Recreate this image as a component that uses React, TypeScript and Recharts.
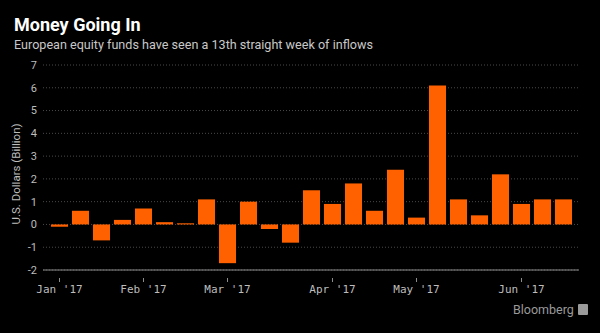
import React from "react";
import { BarChart, Bar, XAxis, YAxis, CartesianGrid } from "recharts";

// weekly fund flows, 2017
const weeks = [
  "2017-01-04", "2017-01-11", "2017-01-18", "2017-01-25",
  "2017-02-01", "2017-02-08", "2017-02-15", "2017-02-22",
  "2017-03-01", "2017-03-08", "2017-03-15", "2017-03-22", "2017-03-29",
  "2017-04-05", "2017-04-12", "2017-04-19", "2017-04-26",
  "2017-05-03", "2017-05-10", "2017-05-17", "2017-05-24", "2017-05-31",
  "2017-06-07", "2017-06-14", "2017-06-21",
];
const inflows = [
  -0.1, 0.6, -0.7, 0.2,
  0.7, 0.1, 0.05, 1.1,
  -1.7, 1.0, -0.2, -0.8, 1.5,
  0.9, 1.8, 0.6, 2.4,
  0.3, 6.1, 1.1, 0.4, 2.2,
  0.9, 1.1, 1.1,
];
const monthTicks: Record<string, string> = {
  "2017-01-04": "Jan '17",
  "2017-02-01": "Feb '17",
  "2017-03-01": "Mar '17",
  "2017-04-05": "Apr '17",
  "2017-05-03": "May '17",
  "2017-06-07": "Jun '17",
};
const yTicks = [-2, -1, 0, 1, 2, 3, 4, 5, 6, 7];

const data = weeks.map((w, i) => ({ week: w, value: inflows[i] }));

const AXIS_GRAY = "#8c8c8c";
const ORANGE = "#ff6100";

function MonthTick(props: any) {
  const { x, y, payload } = props;
  const label = monthTicks[payload.value];
  if (!label) return null;
  return (
    <g>
      <line x1={x} x2={x} y1={y} y2={y + 4} stroke={AXIS_GRAY} />
      <text
        x={x}
        y={y + 15}
        textAnchor="middle"
        fill="#bdbdbd"
        fontSize={11}
        fontFamily="DejaVu Sans Mono"
      >
        {label}
      </text>
    </g>
  );
}

export default function App() {
  return (
    <div
      style={{
        position: "absolute",
        left: 0,
        top: 0,
        width: 600,
        height: 333,
        background: "#000",
        overflow: "hidden",
      }}
    >
      <div
        style={{
          position: "absolute",
          left: 14,
          top: 14,
          color: "#fff",
          fontFamily: "Roboto",
          fontWeight: 700,
          fontSize: 18,
        }}
      >
        Money Going In
      </div>
      <div
        style={{
          position: "absolute",
          left: 14,
          top: 37,
          color: "#c8c8c8",
          fontFamily: "Roboto",
          fontSize: 12.6,
        }}
      >
        European equity funds have seen a 13th straight week of inflows
      </div>
      <div
        style={{
          position: "absolute",
          left: 16,
          top: 174,
          transform: "translate(-50%, -50%) rotate(-90deg)",
          whiteSpace: "nowrap",
          color: "#bdbdbd",
          fontFamily: "Roboto",
          fontSize: 11.5,
        }}
      >
        U.S. Dollars (Billion)
      </div>
      <BarChart
        width={600}
        height={333}
        data={data}
        margin={{ top: 65, right: 21, bottom: 33, left: 0 }}
        barCategoryGap={2}
        style={{ position: "absolute", left: 0, top: 0 }}
      >
        <CartesianGrid
          vertical={false}
          stroke="#4a4a4a"
          strokeDasharray="1 2"
        />
        <XAxis
          dataKey="week"
          type="category"
          height={30}
          padding={{ left: 6, right: 5 }}
          interval={0}
          tickLine={false}
          axisLine={{ stroke: AXIS_GRAY }}
          tick={<MonthTick />}
        />
        <YAxis
          width={43}
          domain={[-2, 7]}
          ticks={yTicks}
          interval={0}
          axisLine={false}
          tickLine={false}
          tickSize={0}
          tickMargin={6}
          tick={{ fill: "#bdbdbd", fontSize: 11, fontFamily: "Roboto" }}
        />
        <Bar dataKey="value" fill={ORANGE} isAnimationActive={false} />
      </BarChart>
      <div
        style={{
          position: "absolute",
          left: 513,
          top: 302,
          color: "#9a9a9a",
          fontFamily: "Roboto",
          fontSize: 12.5,
          display: "flex",
          alignItems: "center",
          gap: 4,
        }}
      >
        Bloomberg
        <span
          style={{
            display: "inline-block",
            width: 10,
            height: 11,
            background: "#9a9a9a",
            borderRadius: 1,
          }}
        />
      </div>
    </div>
  );
}
